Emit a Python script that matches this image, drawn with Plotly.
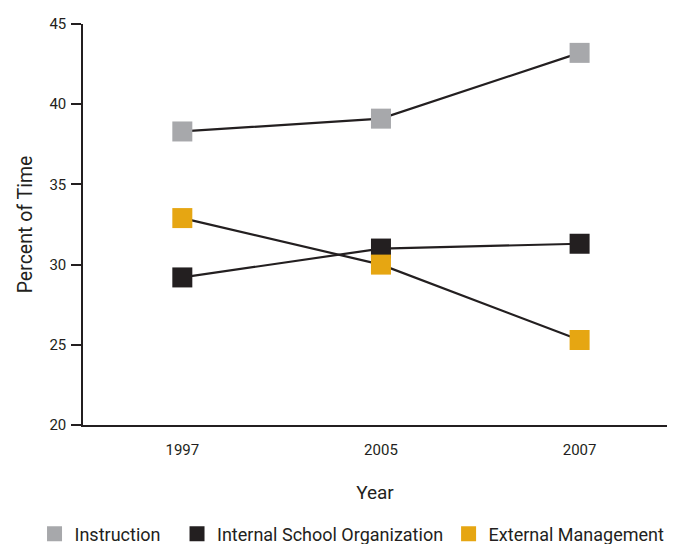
import plotly.graph_objects as go

years = ["1997", "2005", "2007"]
instruction = [38.3, 39.1, 43.2]
internal_org = [29.2, 31.0, 31.3]
external_mgmt = [32.9, 30.0, 25.3]
y_ticks = [20, 25, 30, 35, 40, 45]

FONT = "Roboto, Liberation Sans, sans-serif"
LINE = "#231f20"

series = [
    ("Instruction", instruction, "#a7a8ab"),
    ("Internal School Organization", internal_org, "#231f20"),
    ("External Management", external_mgmt, "#e6a612"),
]
legend_x = [-0.083, 0.161, 0.626]

fig = go.Figure()
for name, vals, col in series:
    fig.add_trace(go.Scatter(
        x=years, y=vals, name=name, mode="lines+markers", showlegend=False,
        line=dict(color=LINE, width=2.2),
        marker=dict(symbol="square", size=20, color=col, line=dict(width=0)),
    ))
for i, (name, vals, col) in enumerate(series):
    fig.add_trace(go.Scatter(
        x=[None], y=[None], name=name, mode="markers",
        marker=dict(symbol="square", size=15, color=col, line=dict(width=0)),
        legend="legend" if i == 0 else f"legend{i+1}",
    ))

leg_common = dict(orientation="h", xanchor="left", y=-0.272, yanchor="middle",
                  font=dict(size=18, family=FONT, color="#231f20"),
                  bgcolor="rgba(0,0,0,0)", borderwidth=0)

# page body has an 8px default margin, so the figure is sized to compensate
fig.update_layout(
    width=667, height=536,
    margin=dict(l=75, r=8, t=16, b=119, autoexpand=False),
    paper_bgcolor="white", plot_bgcolor="white",
    font=dict(family=FONT, color="#231f20", size=15),
    showlegend=True,
    legend=dict(x=legend_x[0], **leg_common),
    legend2=dict(x=legend_x[1], **leg_common),
    legend3=dict(x=legend_x[2], **leg_common),
    xaxis=dict(
        type="category", range=[-0.5, 2.44], showline=True, linecolor=LINE,
        linewidth=1.5, ticks="", showgrid=False, zeroline=False,
        tickfont=dict(size=15), ticklabelstandoff=10,
        title=dict(text="Year", font=dict(size=19), standoff=28),
    ),
    yaxis=dict(
        range=[20, 45], tickvals=y_ticks, showline=True, linecolor=LINE,
        linewidth=1.5, ticks="outside", ticklen=10, tickcolor=LINE, tickwidth=1.5,
        showgrid=False, zeroline=False, tickfont=dict(size=15),
        ticklabelstandoff=2,
        title=dict(text="Percent of Time", font=dict(size=19.5), standoff=12),
    ),
)
fig.write_html("out.html")
